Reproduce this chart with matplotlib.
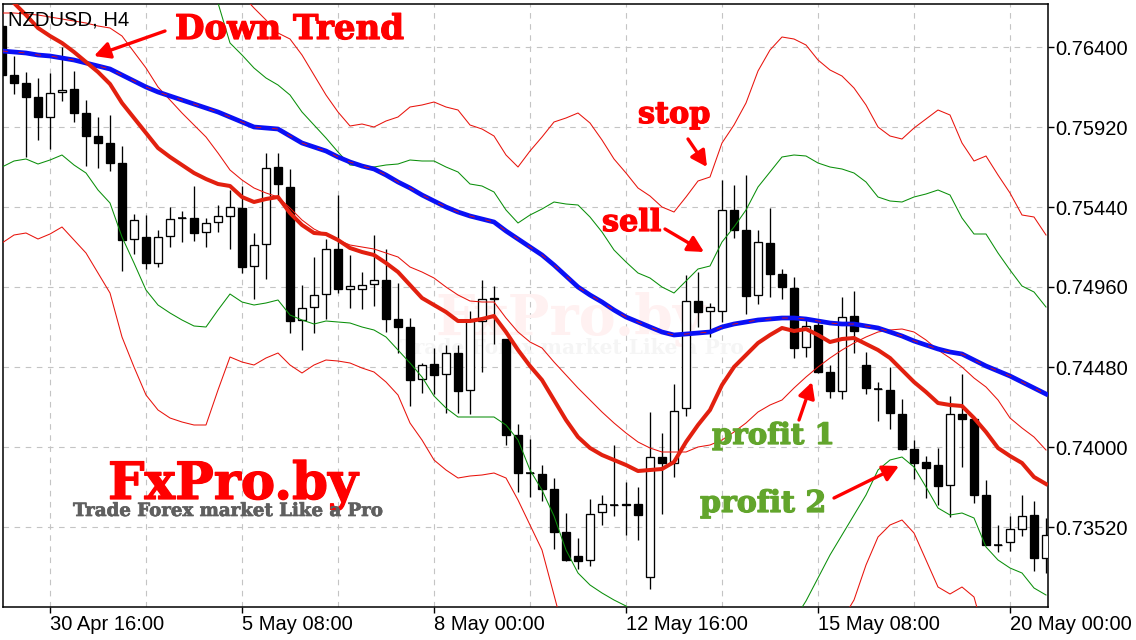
import numpy as np
import matplotlib
matplotlib.use("Agg")
import matplotlib.pyplot as plt
import matplotlib.patheffects as pe

# precios en puntos (1 punto = 0.00001)
PUNTO = 0.00001

apertura = [76526, 76232, 76184, 76100, 75980, 76130, 76148, 76004, 75866, 75824,
            75704, 75248, 75260, 75104, 75266, 75374, 75374, 75290, 75350, 75386,
            75434, 75086, 75218, 75680, 75560, 74762, 74840, 74918, 75188, 74948,
            74948, 74978, 75002, 74768, 74720, 74408, 74498, 74438, 74564, 74342,
            74756, 74894, 74648, 74072, 73844, 73838, 73748, 73490, 73346, 73322,
            73610, 73652, 73658, 73658, 73220, 73940, 73904, 74234, 74876, 74816,
            74816, 75422, 75302, 74912, 75224, 75038, 74954, 74600, 74732, 74450,
            74336, 74786, 74492, 74348, 74342, 74198, 73988, 73910, 73892, 73772,
            74198, 74168, 73712, 73412, 73430, 73508, 73592, 73334]
maximo = [76526, 76346, 76250, 76214, 76244, 76400, 76256, 76082, 75980, 75992,
          75806, 75398, 75392, 75302, 75440, 75416, 75566, 75374, 75452, 75542,
          75566, 75284, 75764, 75764, 75668, 74972, 75140, 75248, 75512, 75152,
          75050, 75272, 75188, 74984, 74774, 74504, 74594, 74612, 74612, 74816,
          75002, 74966, 74648, 74138, 74048, 73892, 73814, 73604, 73454, 73688,
          73712, 74012, 73790, 73760, 74210, 74084, 74378, 75032, 75050, 74864,
          75602, 75572, 75632, 75302, 75434, 75068, 75020, 74780, 74768, 74492,
          74900, 74936, 74570, 74390, 74480, 74288, 74042, 73946, 73994, 74306,
          74438, 74174, 73802, 73532, 73586, 73712, 73676, 73574]
minimo = [76232, 76118, 75740, 75842, 75788, 76076, 75950, 75686, 75674, 75656,
          75056, 75158, 75068, 75080, 75200, 75230, 75236, 75200, 75290, 75188,
          75044, 74888, 75008, 75482, 74684, 74582, 74684, 74768, 74924, 74834,
          74828, 74846, 74690, 74564, 74246, 74324, 74318, 74204, 74204, 74198,
          74450, 74618, 74012, 73730, 73700, 73676, 73388, 73316, 73268, 73286,
          73532, 73586, 73472, 73442, 73148, 73598, 73820, 74186, 74720, 74660,
          74750, 75254, 74798, 74858, 74900, 74888, 74534, 74540, 74444, 74294,
          74288, 74564, 74318, 74156, 74108, 73982, 73808, 73694, 73652, 73580,
          73880, 73664, 73412, 73370, 73376, 73466, 73256, 73244]
cierre = [76232, 76184, 76100, 75980, 76124, 76142, 76004, 75866, 75824, 75704,
          75242, 75362, 75104, 75260, 75368, 75374, 75284, 75344, 75386, 75440,
          75080, 75212, 75674, 75578, 74756, 74834, 74912, 75188, 74948, 74966,
          74972, 75002, 74768, 74720, 74402, 74492, 74432, 74564, 74336, 74756,
          74888, 74888, 74072, 73844, 73844, 73748, 73490, 73322, 73316, 73598,
          73658, 73652, 73652, 73592, 73940, 73904, 74216, 74876, 74810, 74840,
          75422, 75302, 74906, 75230, 75038, 74960, 74594, 74726, 74450, 74336,
          74780, 74696, 74354, 74348, 74204, 73988, 73904, 73874, 73766, 74198,
          74168, 73712, 73412, 73412, 73508, 73586, 73334, 73472]

media_lenta = [76376, 76370, 76364, 76352, 76346, 76334, 76322, 76304, 76286, 76268,
               76232, 76196, 76160, 76130, 76106, 76082, 76058, 76034, 76010, 75980,
               75950, 75920, 75914, 75908, 75866, 75824, 75800, 75776, 75740, 75710,
               75686, 75668, 75632, 75590, 75554, 75512, 75476, 75440, 75410, 75386,
               75368, 75350, 75296, 75248, 75200, 75152, 75092, 75026, 74960, 74912,
               74870, 74822, 74780, 74750, 74720, 74690, 74672, 74678, 74684, 74690,
               74720, 74738, 74750, 74762, 74768, 74774, 74774, 74768, 74756, 74744,
               74738, 74738, 74726, 74714, 74690, 74666, 74636, 74612, 74588, 74570,
               74558, 74522, 74486, 74456, 74426, 74390, 74354, 74318]
media_rapida = [76712, 76664, 76592, 76514, 76466, 76424, 76370, 76310, 76250, 76178,
                76064, 75974, 75884, 75794, 75740, 75692, 75644, 75608, 75578, 75566,
                75500, 75470, 75488, 75500, 75404, 75332, 75284, 75278, 75242, 75194,
                75170, 75152, 75104, 75050, 74972, 74894, 74852, 74810, 74756, 74756,
                74768, 74786, 74690, 74582, 74486, 74402, 74282, 74162, 74060, 73994,
                73952, 73922, 73892, 73856, 73862, 73868, 73910, 74030, 74132, 74222,
                74372, 74480, 74552, 74624, 74672, 74714, 74696, 74708, 74672, 74630,
                74648, 74654, 74618, 74582, 74534, 74462, 74390, 74330, 74264, 74252,
                74246, 74174, 74090, 73994, 73946, 73904, 73820, 73778]
banda_media = [76604, 76604, 76598, 76592, 76580, 76568, 76556, 76544, 76526, 76514,
               76466, 76370, 76274, 76160, 76082, 76004, 75932, 75860, 75764, 75662,
               75602, 75554, 75524, 75500, 75434, 75362, 75308, 75272, 75242, 75212,
               75200, 75188, 75164, 75140, 75080, 75050, 75014, 74960, 74912, 74876,
               74870, 74870, 74774, 74690, 74630, 74594, 74510, 74432, 74354, 74282,
               74210, 74144, 74084, 74030, 73994, 73970, 73970, 73970, 74000, 74012,
               74042, 74090, 74144, 74210, 74252, 74282, 74354, 74420, 74480, 74534,
               74582, 74624, 74660, 74690, 74702, 74708, 74690, 74642, 74582, 74534,
               74480, 74414, 74360, 74282, 74174, 74114, 74060, 73982]
# las bandas superiores empiezan fuera del grafico
rojo_sup = [np.nan] * 20 + [
    76712, 76634, 76562, 76484, 76448, 76352, 76232, 76112, 76010, 75926,
    75938, 75920, 75956, 75980, 76040, 76052, 76070, 76040, 76022, 75932,
    75908, 75866, 75752, 75680, 75776, 75860, 75950, 75974, 76004, 75944,
    75842, 75728, 75644, 75554, 75506, 75440, 75410, 75500, 75596, 75620,
    75824, 75932, 76064, 76256, 76382, 76460, 76448, 76412, 76322, 76262,
    76226, 76154, 76052, 75920, 75866, 75848, 75914, 75968, 76022, 75992,
    75824, 75716, 75746, 75632, 75524, 75392, 75380, 75272]
verde_sup = [np.nan] * 17 + [
    76802, 76664, 76424, 76352, 76274, 76214, 76172, 76112, 76010, 75932,
    75854, 75770, 75692, 75686, 75680, 75692, 75698, 75722, 75716, 75716,
    75680, 75650, 75578, 75566, 75530, 75422, 75344, 75392, 75428, 75470,
    75458, 75452, 75380, 75290, 75182, 75110, 75044, 75014, 74960, 74924,
    74996, 75068, 75086, 75230, 75320, 75422, 75560, 75650, 75740, 75752,
    75746, 75704, 75680, 75668, 75644, 75590, 75500, 75476, 75470, 75500,
    75518, 75542, 75512, 75374, 75278, 75278, 75164, 75062, 74966, 74930,
    74840]
verde_inf = [75680, 75716, 75728, 75698, 75722, 75752, 75692, 75644, 75542, 75464,
             75260, 75104, 74942, 74852, 74804, 74762, 74726, 74720, 74822, 74918,
             74870, 74852, 74864, 74882, 74792, 74762, 74738, 74756, 74750, 74744,
             74720, 74702, 74660, 74582, 74504, 74420, 74306, 74234, 74180, 74180,
             74180, 74180, 74132, 74042, 73862, 73742, 73586, 73382, 73244, 73172,
             73124, 73082, 73046, 72962, 72872, 72782, 72722, 72662, 72632, 72602,
             72602, 72632, 72692, 72782, 72842, 72902, 72962, 73076, 73214, 73352,
             73472, 73592, 73712, 73862, 73922, 73940, 73880, 73760, 73634, 73592,
             73604, 73574, 73400, 73322, 73274, 73244, 73154, 73112]
rojo_inf = [75224, 75272, 75284, 75248, 75278, 75320, 75242, 75164, 75044, 74924,
            74660, 74480, 74312, 74222, 74174, 74150, 74132, 74132, 74342, 74540,
            74510, 74492, 74534, 74564, 74492, 74444, 74492, 74522, 74516, 74504,
            74474, 74450, 74390, 74312, 74144, 74042, 73922, 73862, 73814, 73826,
            73832, 73844, 73814, 73682, 73532, 73382, 73112, 72842, 72602, 72482,
            72362, 72302, 72242, 72152, 72062, 71942, 71882, 71822, 71762, 71732,
            71732, 71792, 71882, 72002, 72122, 72272, 72482, 72602, 72722, 72842,
            72962, 73082, 73292, 73460, 73532, 73562, 73484, 73322, 73160, 73118,
            73160, 73100, 72842, 72722, 72602, 72542, 72422, 72362]

precios_eje = [0.76400, 0.75920, 0.75440, 0.74960, 0.74480, 0.74000, 0.73520]
barras_eje = [4, 20, 36, 52, 68, 84]
fechas_eje = ["30 Apr 16:00", "5 May 08:00", "8 May 00:00",
              "12 May 16:00", "15 May 08:00", "20 May 00:00"]
barras_grid = [12, 28, 44, 60, 76]

ROJO = "#ff0000"
VERDE_TXT = "#62a52c"
ANCHO, ALTO = 1136, 640


def a_px(x, y):
    # figura en pixeles, con y desde arriba
    return (x, ALTO - y)


def flecha(ax, cola, punta):
    ax.annotate("", xy=a_px(*punta), xytext=a_px(*cola),
                xycoords="figure pixels", textcoords="figure pixels",
                arrowprops=dict(arrowstyle="-|>,head_length=0.95,head_width=0.5",
                                color=ROJO, lw=2.4, shrinkA=0, shrinkB=0),
                zorder=12, annotation_clip=False)


def texto(fig, x, y, s, color, size, grueso=0.9):
    # el trazo engorda la letra, la original es mas pesada
    t = fig.text(x / ANCHO, 1 - y / ALTO, s, color=color, fontsize=size,
                 family="DejaVu Serif", fontweight="bold", ha="left", va="baseline",
                 zorder=12)
    t.set_path_effects([pe.withStroke(linewidth=grueso, foreground=color)])


fig = plt.figure(figsize=(ANCHO / 100, ALTO / 100), dpi=100, facecolor="white")
ax = fig.add_axes([3.5 / ANCHO, 1 - 607 / ALTO, 1044 / ANCHO, 603.5 / ALTO])
ax.set_xlim(0.125, 87.125)
ax.set_ylim(0.73040, 0.76661)

x = np.arange(len(apertura))
o = np.array(apertura) * PUNTO
h = np.array(maximo) * PUNTO
l = np.array(minimo) * PUNTO
c = np.array(cierre) * PUNTO

# velas
ax.vlines(x, l, h, color="black", lw=0.95, zorder=3)
arriba = c >= o
ax.bar(x[arriba], (c - o)[arriba], bottom=o[arriba], width=0.62, facecolor="white",
       edgecolor="black", lw=0.95, zorder=4)
ax.bar(x[~arriba], (c - o)[~arriba], bottom=o[~arriba], width=0.62, facecolor="black",
       edgecolor="black", lw=0.95, zorder=4)
ax.hlines(c[o == c], x[o == c] - 0.33, x[o == c] + 0.33, color="black", lw=1.1, zorder=4)

# bandas y medias
ax.plot(x, np.array(rojo_sup) * PUNTO, color="#e8130c", lw=0.75, zorder=5)
ax.plot(x, np.array(verde_sup) * PUNTO, color="#0a8f0a", lw=0.75, zorder=5)
ax.plot(x, np.array(banda_media) * PUNTO, color="#e8130c", lw=0.75, zorder=5)
ax.plot(x, np.array(verde_inf) * PUNTO, color="#0a8f0a", lw=0.75, zorder=5)
ax.plot(x, np.array(rojo_inf) * PUNTO, color="#e8130c", lw=0.75, zorder=5)
ax.plot(x, np.array(media_lenta) * PUNTO, color="#0a10f5", lw=3.4, zorder=6)
ax.plot(x, np.array(media_lenta) * PUNTO, color="#e8130c", lw=0.6, ls=(0, (7, 13)), zorder=7)
ax.plot(x, np.array(media_rapida) * PUNTO, color="#e2200f", lw=2.9, zorder=7)

# rejilla y ejes
ax.set_axisbelow(True)
ax.yaxis.tick_right()
ax.set_yticks(precios_eje)
ax.set_yticklabels([f"{p:.5f}" for p in precios_eje], fontsize=14.5, family="Liberation Sans")
ax.set_xticks(barras_eje)
ax.set_xticklabels(fechas_eje, fontsize=14.5, family="Liberation Sans", ha="left")
ax.set_xticks(barras_grid, minor=True)
ax.tick_params(axis="y", which="major", length=4, width=1.0, pad=1.5, color="black")
ax.tick_params(axis="x", which="major", length=4, width=1.0, pad=1.5, color="black")
ax.tick_params(axis="x", which="minor", length=0)
ax.grid(True, which="both", color="#c4c4c4", lw=0.8, ls=(0, (5, 5)))
for lado in ax.spines.values():
    lado.set_linewidth(1.1)

# marca de agua detras de las velas
ax.text(435 / ANCHO, 1 - 335 / ALTO, "FxPro.by", color="#fff1f1", fontsize=40,
        family="DejaVu Serif", fontweight="bold", zorder=1, transform=fig.transFigure)
ax.text(400 / ANCHO, 1 - 354 / ALTO, "Trade Forex market Like a Pro", color="#f5f5f5",
        fontsize=14.5, family="DejaVu Serif", fontweight="bold", zorder=1,
        transform=fig.transFigure)

# textos
fig.text(8 / ANCHO, 1 - 26 / ALTO, "NZDUSD, H4", color="black", fontsize=14.6,
         family="Liberation Sans", zorder=12)
texto(fig, 175, 39, "Down Trend", ROJO, 24.5)
texto(fig, 638, 123, "stop", ROJO, 21.8)
texto(fig, 602, 231, "sell", ROJO, 21.8)
texto(fig, 712, 444, "profit 1", VERDE_TXT, 21)
texto(fig, 700, 512, "profit 2", VERDE_TXT, 21.6)
texto(fig, 108, 499, "FxPro.by", ROJO, 37)
texto(fig, 73, 516, "Trade Forex market Like a Pro", "#5f5f5f", 13.1, grueso=0.5)

flecha(ax, (165, 31), (94, 56))
flecha(ax, (688, 139), (707, 167))
flecha(ax, (665, 229), (704, 252))
flecha(ax, (799, 420), (812, 382))
flecha(ax, (834, 498), (899, 466))

fig.savefig("out.png", dpi=100)
